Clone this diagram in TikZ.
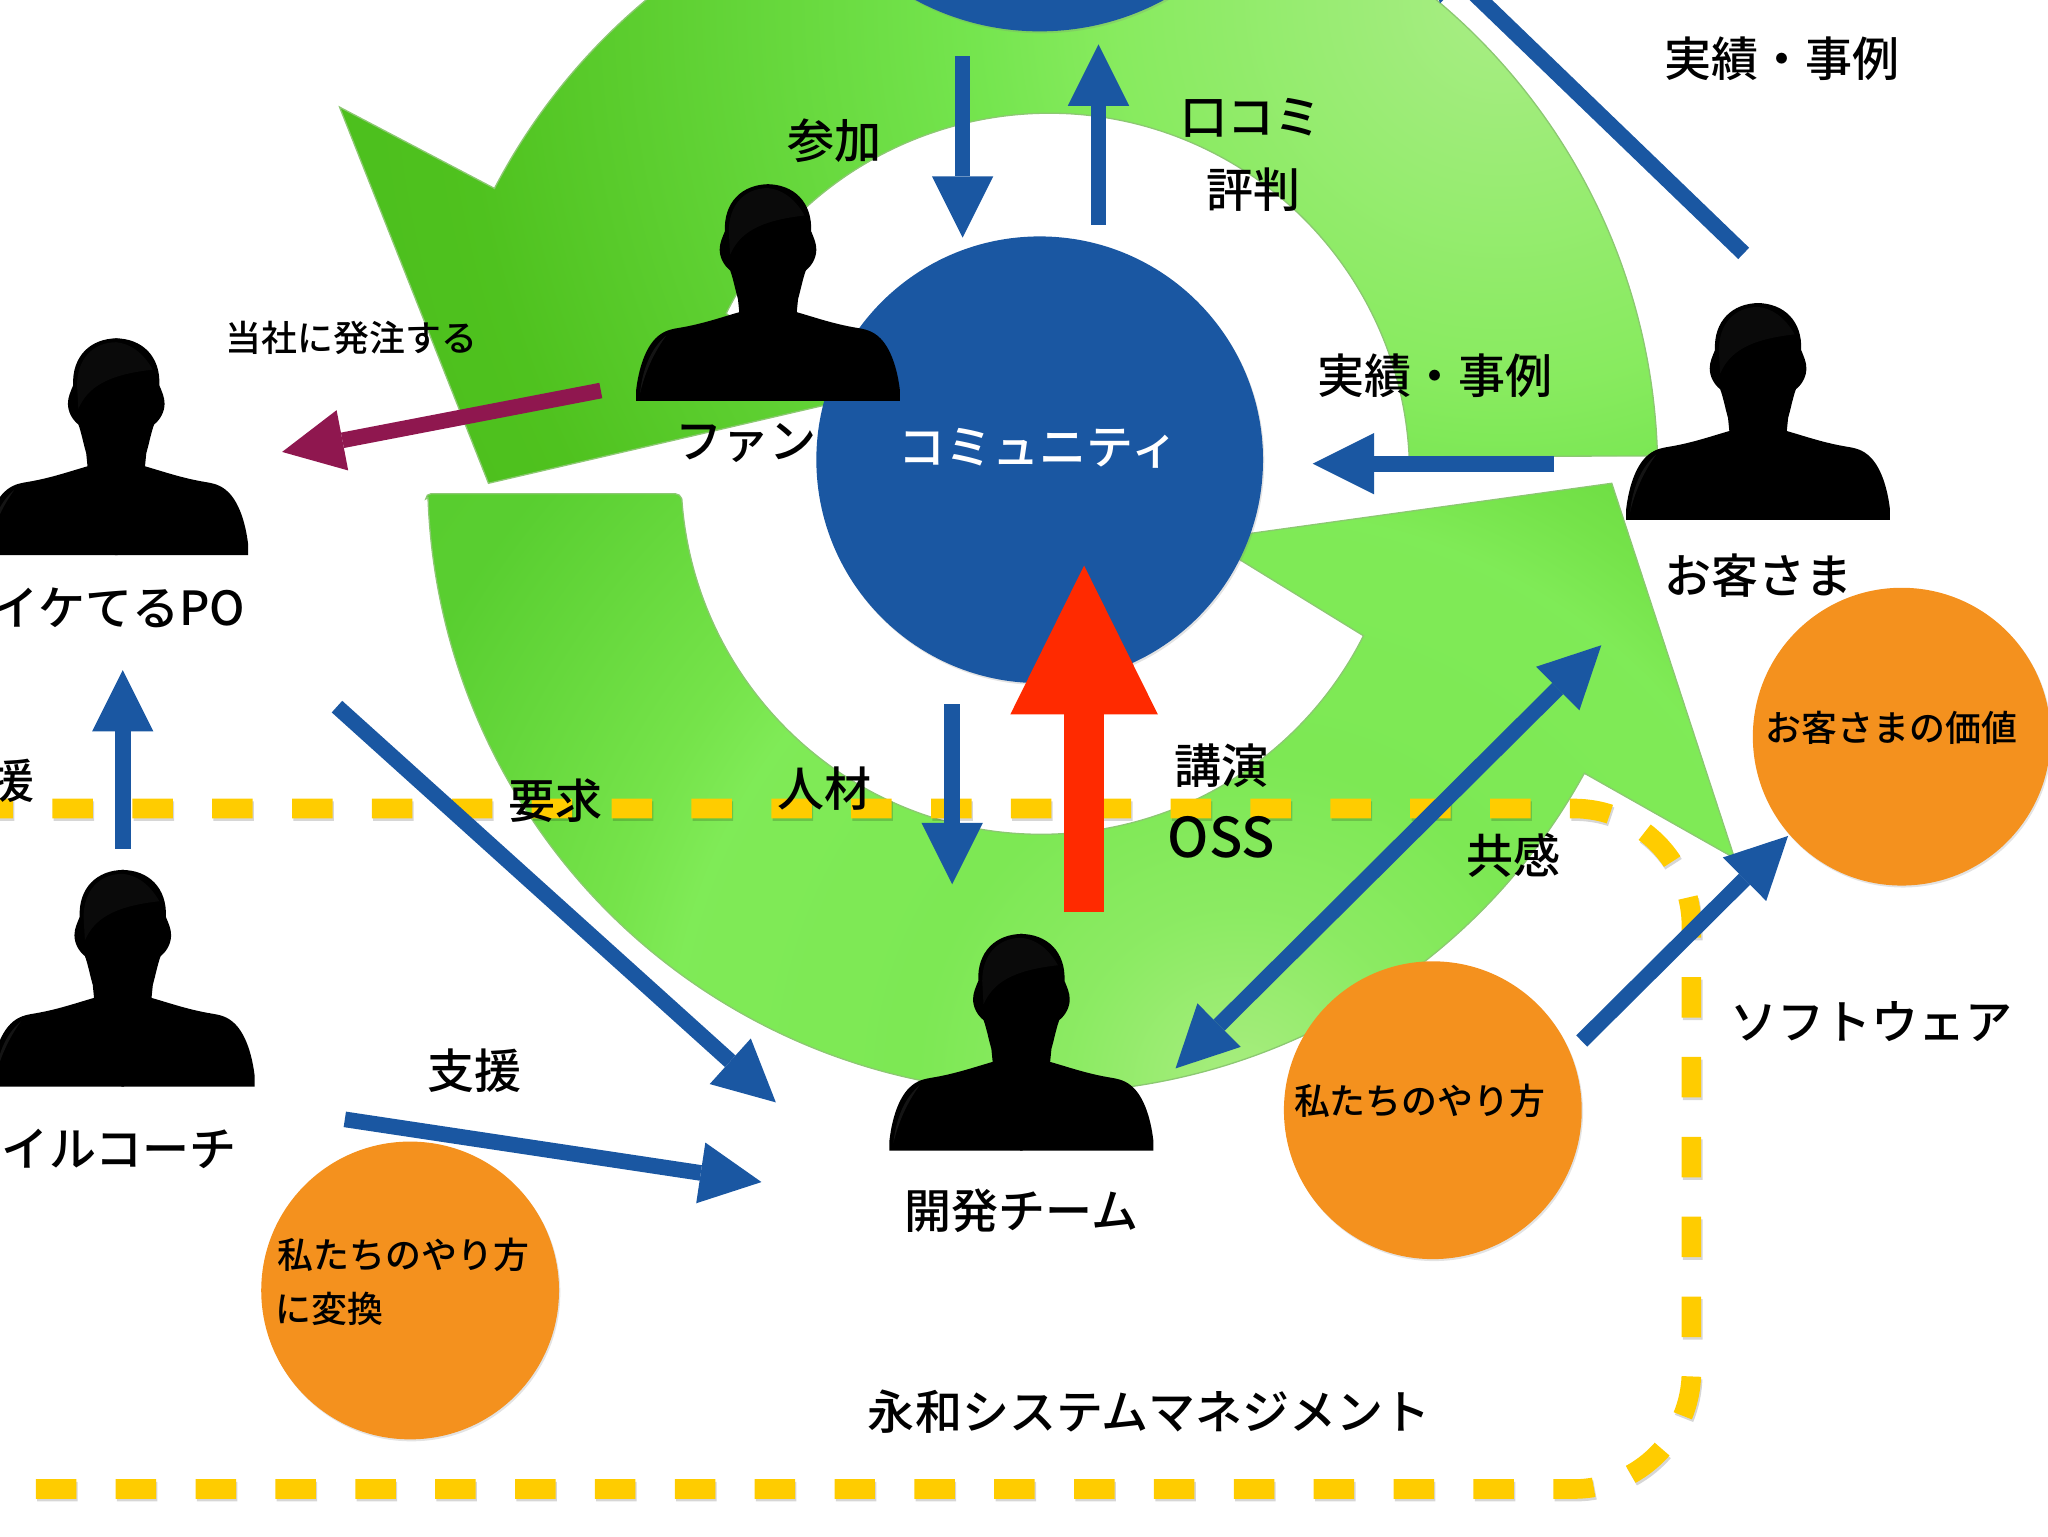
\documentclass[tikz,border=0pt]{standalone}
\usepackage{fontspec}
\setmainfont{Noto Sans CJK JP Medium}
\usetikzlibrary{arrows.meta,shadows}
\definecolor{cBlue}{HTML}{1A57A2}
\definecolor{cOrange}{HTML}{F4911E}
\definecolor{cYellow}{HTML}{FFCC00}
\definecolor{cRed}{HTML}{FF2A00}
\definecolor{cPurple}{HTML}{8F174F}
\definecolor{cEdge}{HTML}{8CC872}
\pgfdeclareradialshading{topGlow}{\pgfpointorigin}{
  rgb(0bp)=(0.66,0.93,0.52);
  rgb(7.5bp)=(0.53,0.92,0.37);
  rgb(10bp)=(0.46,0.90,0.31);
  rgb(20bp)=(0.31,0.76,0.12);
  rgb(25bp)=(0.29,0.74,0.11);
  rgb(50bp)=(0.29,0.74,0.11)}
\pgfdeclareradialshading{lowGlow}{\pgfpointorigin}{
  rgb(0bp)=(0.66,0.93,0.50);
  rgb(3.2bp)=(0.55,0.92,0.39);
  rgb(6.2bp)=(0.49,0.91,0.33);
  rgb(11bp)=(0.50,0.92,0.34);
  rgb(12.5bp)=(0.46,0.89,0.29);
  rgb(17.5bp)=(0.35,0.81,0.19);
  rgb(25bp)=(0.33,0.78,0.16);
  rgb(50bp)=(0.33,0.78,0.16)}
\tikzset{
  lb/.style={font=\fontsize{36}{36}\selectfont,inner sep=0pt},
  lbs/.style={font=\fontsize{27.5}{27.5}\selectfont,inner sep=0pt},
  disc/.style={circle,fill=#1,inner sep=0pt,drop shadow={opacity=.22,shadow xshift=1pt,shadow yshift=-1.5pt}},
  flow/.style={draw=#1,line width=12pt,-{Triangle[width=47pt,length=47pt,line width=0pt]}},
  flowboth/.style={draw=#1,line width=12pt,{Triangle[width=47pt,length=47pt,line width=0pt]}-{Triangle[width=47pt,length=47pt,line width=0pt]}},
  person/.pic={
    \foreach \s in {1,-1} {
      \fill[black,xscale=\s] (1,0) -- (-101,0) -- (-101,-8) .. controls (-99,-25) and (-94,-40) .. (-86,-48)
        .. controls (-80,-54) and (-74,-55) .. (-68,-56) .. controls (-50,-59) and (-36,-64) .. (-22,-68)
        -- (-23,-78) .. controls (-25,-85) and (-27,-95) .. (-29,-100) .. controls (-34,-104) and (-37,-110) .. (-37,-116)
        .. controls (-37,-121) and (-35,-125) .. (-33,-130) .. controls (-34,-152) and (-20,-166) .. (1,-166) -- cycle;
    }
    \fill[black!96!white] (-29,-112) .. controls (-22,-128) and (-8,-138) .. (28,-142) .. controls (20,-156) and (10,-162) .. (0,-163)
      .. controls (-18,-163) and (-30,-150) .. (-30,-130) -- cycle;
    \fill[black!92!white] (-98,-6) .. controls (-96,-24) and (-90,-40) .. (-78,-50) .. controls (-88,-36) and (-94,-22) .. (-98,-6) -- cycle;
  },
}
\begin{document}
\begin{tikzpicture}[x=1pt,y=-1pt]
  \useasboundingbox (0,0) rectangle (1568,1176);
  \clip (0,0) rectangle (1568,1176);
  % green cycle
  \path[draw=cEdge,line width=1pt,path picture={\shade[shading=topGlow] (1150,0) circle (1000pt);}]
     (1269,349) arc[start angle=-1.6,end angle=-152.5,radius=472] -- (260,82) -- (374,370) -- (641,308) -- (556,240)
     arc[start angle=-153.6,end angle=-2.7,radius=276] -- cycle;
  \path[draw=cEdge,line width=1pt,path picture={\shade[shading=lowGlow] (950,830) circle (1000pt);}]
     (326,382) [rounded corners=4pt] -- (326,378) -- (521,378) [sharp corners] -- (522,382)
     arc[start angle=176,end angle=26.7,radius=276] -- (924,413) -- (1234,370) -- (1328,657) -- (1213,592)
     arc[start angle=28.8,end angle=178,radius=472] -- cycle;
  % yellow border
  \draw[cYellow,line width=15pt,dash pattern=on 31pt off 30.15pt,
        preaction={draw=black,opacity=.16,line width=15pt,dash pattern=on 31pt off 30.15pt,transform canvas={xshift=1pt,yshift=-2pt}}]
     (-21,619) -- (1205,619) arc[start angle=-90,end angle=0,radius=90] -- (1295,1050) arc[start angle=0,end angle=90,radius=90] -- (-40,1140);
  % circles
  \node[disc=cBlue,minimum size=400pt] (communityTop) at (796,-176) {};
  \node[disc=cBlue,minimum size=342pt] (community) at (796,352) {};
  \node[disc=cOrange,minimum size=228pt] (valueCircle) at (1456,564) {};
  \node[disc=cOrange,minimum size=228pt] (wayCircle) at (1097,850) {};
  \node[disc=cOrange,minimum size=228pt] (convertCircle) at (314,988) {};
  % people
  \pic (fan) at (588,307) {person};
  \pic (owner) at (89,425) {person};
  \pic (coach) at (94,832) {person};
  \pic (customer) at (1346,398) {person};
  \pic (team) at (782,881) {person};
  % arrow ends
  \coordinate (joinA) at (737,43);    \coordinate (joinB) at (737,182);
  \coordinate (wordA) at (841,172);   \coordinate (wordB) at (841,34);
  \coordinate (refA) at (1335,194);   \coordinate (refB) at (1085,-47);
  \coordinate (caseA) at (1190,355);  \coordinate (caseB) at (1005,355);
  \coordinate (orderA) at (460,299);  \coordinate (orderB) at (216,346);
  \coordinate (helpA) at (94,650);    \coordinate (helpB) at (94,513);
  \coordinate (needA) at (258,541);   \coordinate (needB) at (594,844);
  \coordinate (backA) at (264,857);   \coordinate (backB) at (583,905);
  \coordinate (staffA) at (729,539);  \coordinate (staffB) at (729,677);
  \coordinate (talkA) at (830,698);   \coordinate (talkB) at (830,433);
  \coordinate (feelA) at (1226,494);  \coordinate (feelB) at (900,818);
  \coordinate (softA) at (1211,797);  \coordinate (softB) at (1369,640);
  % arrows
  \draw[flow=cBlue] (joinA) -- (joinB);
  \draw[flow=cBlue] (wordA) -- (wordB);
  \draw[flow=cBlue] (refA) -- (refB);
  \draw[flow=cBlue] (caseA) -- (caseB);
  \draw[flow=cPurple] (orderA) -- (orderB);
  \draw[flow=cBlue] (helpA) -- (helpB);
  \draw[flow=cBlue] (needA) -- (needB);
  \draw[flow=cBlue] (backA) -- (backB);
  \draw[flow=cBlue] (staffA) -- (staffB);
  \draw[cRed,line width=31pt,-{Triangle[width=113pt,length=114pt,line width=0pt]}] (talkA) -- (talkB);
  \draw[flowboth=cBlue] (feelA) -- (feelB);
  \draw[flow=cBlue] (softA) -- (softB);
  % labels
  \node[lb] (tJoin) at (639,108) {参加};
  \node[lb] (tWord) at (958,90) {口コミ};
  \node[lb] (tRep) at (960,145) {評判};
  \node[lb] (tRefTop) at (1364,45) {実績・事例};
  \node[lb] (tRef) at (1099,288) {実績・事例};
  \node[lbs] (tOrder) at (269,259) {当社に発注する};
  \node[lb] (tFan) at (571,339) {ファン};
  \node[lb,text=white] (tCommunity) at (795,343) {コミュニティ};
  \node[lb,anchor=east] (tOwner) at (188,465) {イケてるPO};
  \node[lb,anchor=east] (tHelp) at (27,598) {援};
  \node[lb,anchor=east] (tCoach) at (181,880) {イルコーチ};
  \node[lb] (tNeed) at (425,613) {要求};
  \node[lb] (tStaff) at (631,604) {人材};
  \node[lb] (tTalk) at (935,586) {講演};
  \node[lb,font=\fontsize{42}{42}\selectfont] (tOss) at (935,641) {OSS};
  \node[lb] (tFeel) at (1159,655) {共感};
  \node[lb] (tCustomer) at (1346,441) {お客さま};
  \node[lb] (tSoft) at (1433,782) {ソフトウェア};
  \node[lb] (tBack) at (363,820) {支援};
  \node[lb] (tTeam) at (782,927) {開発チーム};
  \node[lb] (tCompany) at (880,1081) {永和システムマネジメント};
  \node[lbs] (tValue) at (1448,557) {お客さまの価値};
  \node[lbs] (tWay) at (1087,843) {私たちのやり方};
  \node[lbs] (tWayTwo) at (309,961) {私たちのやり方};
  \node[lbs,anchor=west] (tConvert) at (211,1002) {に変換};
\end{tikzpicture}
\end{document}
